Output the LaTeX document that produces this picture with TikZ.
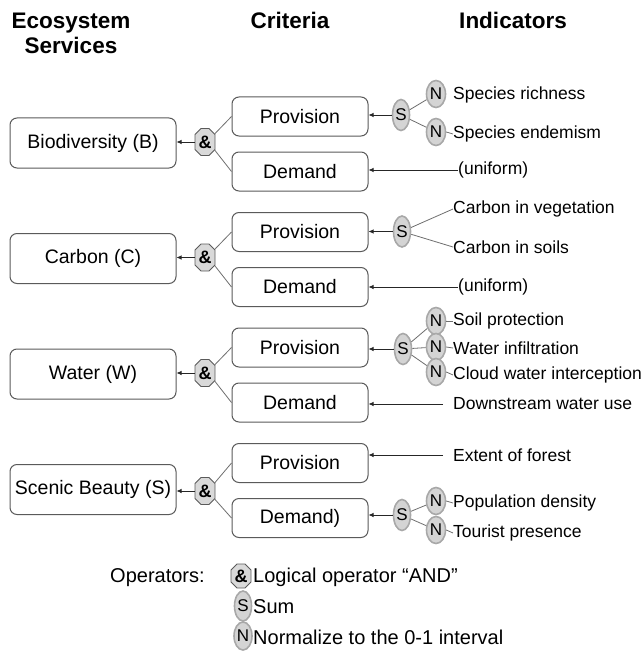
\documentclass[tikz,border=0pt]{standalone}
\usepackage{fontspec}
\setmainfont{Liberation Sans}
\usetikzlibrary{shapes.geometric,shapes.misc,arrows.meta}
\definecolor{boxgray}{HTML}{5A5A5A}
\definecolor{ellfill}{HTML}{D4D4D4}
\definecolor{ellborder}{HTML}{A8A8A8}
\definecolor{octfill}{HTML}{D9D9D9}
\definecolor{linegray}{HTML}{6E6E6E}
\begin{document}
\begin{tikzpicture}[x=1pt,y=-1pt,
  esbox/.style={draw=boxgray, line width=1pt, rounded corners=7pt, fill=white,
    minimum width=166pt, minimum height=50pt, inner sep=0pt,
    font=\fontsize{19.5}{22}\selectfont},
  critbox/.style={esbox, minimum width=136pt, minimum height=39pt},
  andop/.style={chamfered rectangle, chamfered rectangle xsep=3pt,
    chamfered rectangle ysep=3pt, draw=boxgray, fill=octfill, line width=0.9pt,
    minimum width=20pt, minimum height=27pt, inner sep=0pt,
    font=\fontsize{18}{20}\selectfont\bfseries},
  sop/.style={ellipse, draw=ellborder, fill=ellfill, line width=1.6pt,
    minimum width=17pt, minimum height=31pt, inner sep=0pt,
    font=\fontsize{17}{18}\selectfont},
  nop/.style={sop, minimum width=19pt, minimum height=27pt},
  ind/.style={anchor=west, inner sep=0pt, font=\fontsize{17.5}{20}\selectfont},
  head/.style={align=center, inner sep=0pt, font=\fontsize{22.5}{25}\selectfont\bfseries},
  legtext/.style={anchor=west, inner sep=0pt, font=\fontsize{20}{22}\selectfont},
  conn/.style={draw=linegray, line width=0.8pt},
  arr/.style={draw=black!85, line width=0.8pt, -{Latex[length=5pt,width=4.5pt]}}
]
\useasboundingbox (0,0) rectangle (643,658);

% headers
\node[head] (h1) at (71,33) {Ecosystem\\Services};
\node[head] (h2) at (290,20) {Criteria};
\node[head] (h3) at (513,20) {Indicators};

% ---------- Biodiversity
\node[esbox] (bio) at (93,143) {Biodiversity (B)};
\node[andop] (and1) at (205,142) {\&};
\node[critbox] (prov1) at (300,116.5) {Provision};
\node[critbox] (dem1) at (300,171.5) {Demand};
\draw[arr] (and1.west) -- (bio.east |- and1.west);
\draw[conn] (and1.40) -- (prov1.west);
\draw[conn] (and1.-40) -- (dem1.west);
\node[sop] (s1) at (401,115) {S};
\node[nop] (n11) at (436,94) {N};
\node[nop] (n12) at (436,132) {N};
\node[ind] (t11) at (453,95) {Species richness};
\node[ind] (t12) at (453,134) {Species endemism};
\node[ind] (u1) at (458,170) {(uniform)};
\draw[arr] (s1.west) -- (prov1.east |- s1.west);
\draw[conn] (s1) -- (n11);
\draw[conn] (s1) -- (n12);
\draw[conn] (n12.east) -- (t12.west);
\draw[arr] (u1.west) -- (dem1.east |- u1.west);

% ---------- Carbon
\node[esbox] (carb) at (93,258.5) {Carbon (C)};
\node[andop] (and2) at (205,257.5) {\&};
\node[critbox] (prov2) at (300,232) {Provision};
\node[critbox] (dem2) at (300,287) {Demand};
\draw[arr] (and2.west) -- (carb.east |- and2.west);
\draw[conn] (and2.40) -- (prov2.west);
\draw[conn] (and2.-40) -- (dem2.west);
\node[sop] (s2) at (402,231.5) {S};
\node[ind] (t21) at (453,209) {Carbon in vegetation};
\node[ind] (t22) at (453,247) {Carbon in soils};
\node[ind] (u2) at (458,287) {(uniform)};
\draw[arr] (s2.west) -- (prov2.east |- s2.west);
\draw[conn] (s2) -- (t21.west);
\draw[conn] (s2) -- (t22.west);
\draw[arr] (u2.west) -- (dem2.east |- u2.west);

% ---------- Water
\node[esbox] (wat) at (93,374) {Water (W)};
\node[andop] (and3) at (205,373) {\&};
\node[critbox] (prov3) at (300,347.5) {Provision};
\node[critbox] (dem3) at (300,402.5) {Demand};
\draw[arr] (and3.west) -- (wat.east |- and3.west);
\draw[conn] (and3.40) -- (prov3.west);
\draw[conn] (and3.-40) -- (dem3.west);
\node[sop] (s3) at (403,349) {S};
\node[nop] (n31) at (436,321) {N};
\node[nop] (n32) at (436,347) {N};
\node[nop] (n33) at (436,372) {N};
\node[ind] (t31) at (453,321) {Soil protection};
\node[ind] (t32) at (453,348) {Water infiltration};
\node[ind] (t33) at (453,375) {Cloud water interception};
\node[ind] (t34) at (453,404) {Downstream water use};
\draw[arr] (s3.west) -- (prov3.east |- s3.west);
\draw[conn] (s3) -- (n31);
\draw[conn] (s3) -- (n32);
\draw[conn] (s3) -- (n33);
\draw[conn] (n31.east) -- (t31.west);
\draw[conn] (n32.east) -- (t32.west);
\draw[conn] (n33.east) -- (t33.west);
\draw[arr] ([xshift=-10pt]t34.west) -- (dem3.east |- t34.west);

% ---------- Scenic beauty
\node[esbox] (scen) at (93,489.5) {Scenic Beauty (S)};
\node[andop] (and4) at (205,491) {\&};
\node[critbox] (prov4) at (300,463) {Provision};
\node[critbox] (dem4) at (300,518) {Demand)};
\draw[arr] (and4.west) -- (scen.east |- and4.west);
\draw[conn] (and4.40) -- (prov4.west);
\draw[conn] (and4.-40) -- (dem4.west);
\node[ind] (t41) at (453,455) {Extent of forest};
\draw[arr] ([xshift=-10pt]t41.west) -- (prov4.east |- t41.west);
\node[sop] (s4) at (402,515) {S};
\node[nop] (n41) at (436,501) {N};
\node[nop] (n42) at (436,530) {N};
\node[ind] (t42) at (453,503) {Population density};
\node[ind] (t43) at (453,533) {Tourist presence};
\draw[arr] (s4.west) -- (dem4.east |- s4.west);
\draw[conn] (s4) -- (n41);
\draw[conn] (s4) -- (n42);
\draw[conn] (n41.east) -- (t42.west);
\draw[conn] (n42.east) -- (t43.west);

% ---------- Legend
\node[legtext] (op) at (110,578) {Operators:};
\node[andop, minimum width=20pt, minimum height=24pt] (andL) at (241,576) {\&};
\node[sop, minimum height=30pt] (sL) at (243,606) {S};
\node[nop, minimum width=18pt, minimum height=28pt] (nL) at (243,636) {N};
\node[legtext] (l1) at (253,577) {Logical operator “AND”};
\node[legtext] (l2) at (253,607) {Sum};
\node[legtext] (l3) at (253,637) {Normalize to the 0-1 interval};
\end{tikzpicture}
\end{document}
